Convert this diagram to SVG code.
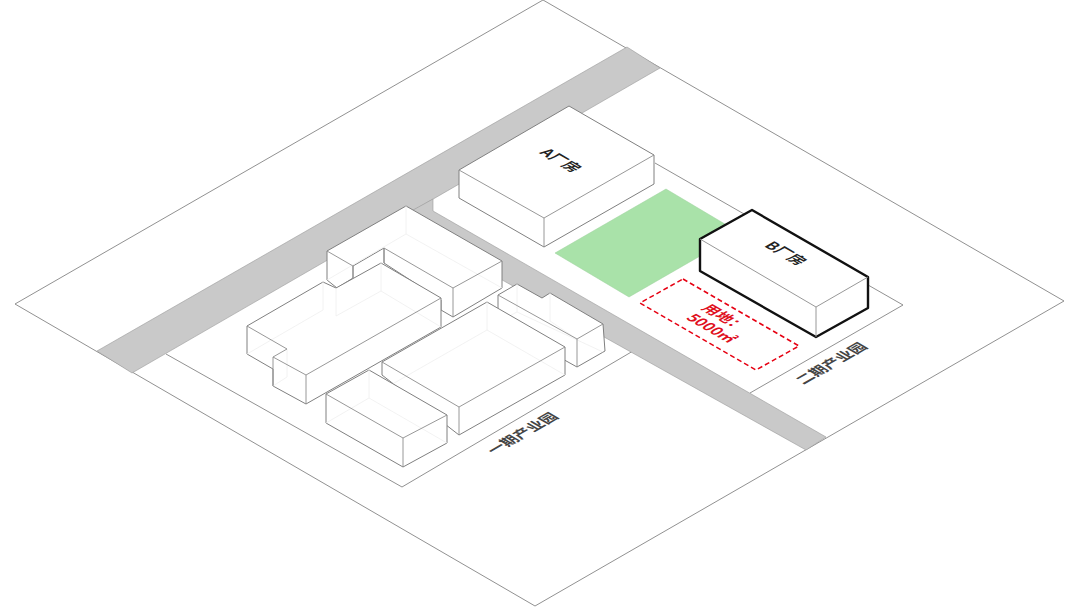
<svg xmlns="http://www.w3.org/2000/svg" width="1079" height="607" viewBox="0 0 1079 607">
<style>
.ln{fill:none;stroke:#858585;stroke-width:.9;stroke-linejoin:round}
.road{fill:#c9c9c9;stroke:#9a9a9a;stroke-width:.6}
.top{fill:#fff;stroke:#808080;stroke-width:1;stroke-linejoin:round}
.ghost{fill:none;stroke:#efefef;stroke-width:.8}
.hv{fill:#fff;stroke:#111;stroke-width:2.4;stroke-linejoin:round}
.thin{fill:none;stroke:#8c8c8c;stroke-width:.9}
text{font-family:"Noto Sans CJK SC","Noto Sans",sans-serif;font-weight:700;text-anchor:middle}
.lbl{fill:#444;font-size:15px}
.bl{fill:#222;font-size:15px}
.rd{fill:#e0101e;font-size:15px}
</style>
<g id="ground">
<polygon class="ln" points="543,0 1064,301 535,606 15,304"/>
<polyline class="ln" points="166,354 402,487 633,351"/>
<polyline class="ln" points="655,163 903,305 750,393"/>
</g>
<g id="roads">
<polygon class="road" points="627,47 660,68 132,373 97,351"/>
<polygon class="road" points="433,199 433,211 826,437 806,450 395,220"/>
</g>
<g id="green-plot"><polygon fill="#a9e2a9" stroke="#9ad09a" stroke-width=".5" points="666,189 740,233 629,297 555,253"/></g>
<g id="site-outline">
<polygon fill="none" stroke="#e60012" stroke-width="1.5" stroke-dasharray="5 3" points="683,279 799,346 756,370 640,303"/>
<text class="rd" transform="matrix(.866 .5 -.866 .5 720 320)">用地：</text>
<text class="rd" transform="matrix(.866 .5 -.866 .5 707 331)">5000㎡</text>
</g>
<g id="building-l1">
<path class="top" d="M406,206L502,261V288L453,317L441,310V300L384,263V248L353,266V278L337,288L327,280V251Z"/>
<path class="ghost" d="M406,206V234L502,288M406,234L327,280"/>
<polyline class="thin" points="327,251 353,266 353,278"/>
<path class="thin" d="M384,248V263M384,248L453,288V317M453,288L502,261"/>
</g>
<g id="building-l2">
<path class="top" d="M247,326L323,282L336,288L381,263L441,298V327L306,404L273,386V369L247,354V326Z"/>
<path class="ghost" d="M381,263V291L441,327M381,291L336,316V288M323,282V310L247,354M287,349V377L273,386"/>
<path class="thin" d="M247,326L287,349L273,357V386M273,357L306,375V404M306,375L441,298"/>
</g>
<g id="building-l5">
<path class="top" d="M498,295L517,284L542,298L550,293L603,324L605,351L577,367L498,323Z"/>
<path class="ghost" d="M517,284V312L603,352M550,293V321L577,339M517,312L498,322"/>
<path class="thin" d="M498,295L577,339L603,324M577,339V367"/>
</g>
<g id="building-l3">
<polygon class="top" points="487,302 565,347 565,375 459,435 382,375 382,362"/>
<path class="ghost" d="M487,302V330L565,375M487,330L382,390"/>
<path class="thin" d="M382,362L459,407L565,347M459,407V435"/>
</g>
<g id="building-l4">
<polygon class="top" points="369,370 447,415 447,443 403,467 326,423 326,394"/>
<path class="ghost" d="M369,370V398L447,443M369,398L326,423"/>
<path class="thin" d="M326,394L403,438L447,415M403,438V467"/>
</g>
<g id="building-a">
<polygon class="top" points="569,106 654,155 654,184 544,247 459,198 459,170"/>
<path class="thin" d="M459,170L544,218L654,155M544,218V247"/>
<text class="bl" transform="matrix(.866 .5 -.866 .5 556 163)">A厂房</text>
</g>
<g id="building-b">
<polygon class="hv" points="752,210 868,277 868,308 816,337 700,271 700,239"/>
<path class="thin" d="M700,239L816,307L868,277M816,307V337"/>
<text class="bl" transform="matrix(.866 .5 -.866 .5 781 256)">B厂房</text>
</g>
<g id="labels">
<text class="lbl" transform="matrix(.866 -.5 .866 .5 527 436)">一期产业园</text>
<text class="lbl" transform="matrix(.866 -.5 .866 .5 836 366)">二期产业园</text>
</g>
</svg>
